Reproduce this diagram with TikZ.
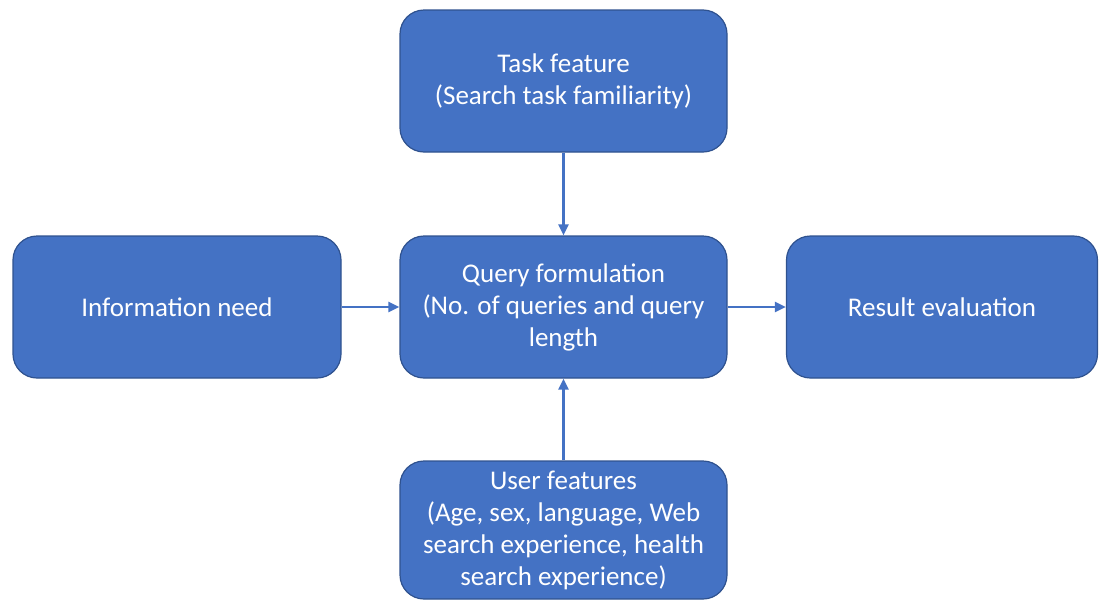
\documentclass[tikz,border=0pt]{standalone}
\usepackage{fontspec}
\setmainfont{Carlito}
\usetikzlibrary{arrows.meta}
\definecolor{boxfill}{HTML}{4472C4}
\definecolor{boxline}{HTML}{2F528F}
\tikzset{
  stepbox/.style={draw=boxline, line width=1.2pt, fill=boxfill, rounded corners=24pt,
    text=white, align=center, font=\fontsize{27}{32}\selectfont, inner sep=0pt},
  conn/.style={draw=boxfill, line width=2.2pt, -{Triangle[length=11pt,width=10pt]}}
}
\begin{document}
\begin{tikzpicture}[x=1pt,y=-1pt]
\useasboundingbox (0,0) rectangle (1099,600);
\node[stepbox, minimum width=327pt, minimum height=142pt] (task) at (563.5,81) {Task feature\\(Search task familiarity)};
\node[stepbox, minimum width=328pt, minimum height=142pt] (info) at (177,307) {Information need};
\node[stepbox, minimum width=327pt, minimum height=142pt] (query) at (563.5,307) {Query formulation\\(No. of queries and query\\length};
\node[stepbox, minimum width=311pt, minimum height=142pt] (result) at (942,307) {Result evaluation};
\node[stepbox, minimum width=327pt, minimum height=138pt] (user) at (563.5,530) {User features\\(Age, sex, language, Web\\search experience, health\\search experience)};
\draw[conn] (task) -- (query);
\draw[conn] (info) -- (query);
\draw[conn] (query) -- (result);
\draw[conn] (user) -- (query);
\end{tikzpicture}
\end{document}
